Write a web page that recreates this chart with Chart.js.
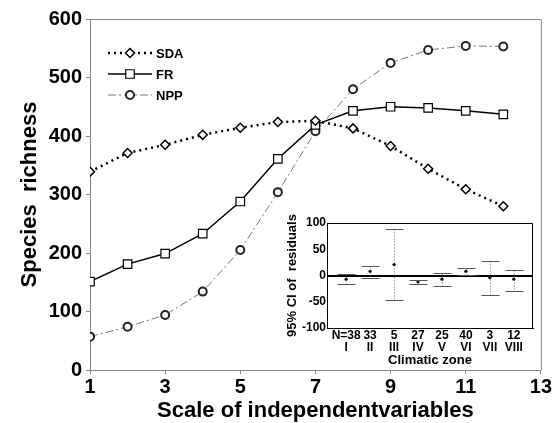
<!DOCTYPE html>
<html>
<head>
<meta charset="utf-8">
<script src="https://cdn.jsdelivr.net/npm/chart.js@4/dist/chart.umd.min.js"></script>
<style>
  html, body { margin: 0; padding: 0; background: #fff; }
  #wrap { position: relative; width: 553px; height: 423px; }
  #mainChart { position: absolute; left: 0; top: 0; }
  #insetChart { position: absolute; left: 282px; top: 205px; }
</style>
</head>
<body>
<div id="wrap">
  <canvas id="mainChart" width="553" height="423"></canvas>
  <canvas id="insetChart" width="260" height="163"></canvas>
</div>
<script>
// main panel data
const scaleSteps = [1, 2, 3, 4, 5, 6, 7, 8, 9, 10, 11, 12];
const sdaValues = [339, 371, 385, 402, 414, 424, 426, 413, 383, 344, 309, 280];
const frValues = [151, 181, 199, 233, 288, 361, 419, 443, 450, 448, 443, 437];
const nppValues = [57, 74, 94, 134, 205, 304, 408, 480, 525, 547, 554, 553];
const xTicks = [1, 3, 5, 7, 9, 11, 13];

// inset data
const zonePos = [1, 2, 3, 4, 5, 6, 7, 8];
const zoneNames = ['I', 'II', 'III', 'IV', 'V', 'VI', 'VII', 'VIII'];
const zoneN = ['N=38', '33', '5', '27', '25', '40', '3', '12'];
const ciMean = [-7, 8, 21, -12, -7, 8, -4, -7];
const ciUpper = [2, 18, 88, -8, 5, 15, 28, 10];
const ciLower = [-17, -4, -46, -16, -20, 1, -38, -30];

Chart.defaults.font.family = "'Liberation Sans', Arial, sans-serif";
Chart.defaults.font.weight = 'bold';
Chart.defaults.color = '#000';
Chart.defaults.animation = false;

const FONT = "'Liberation Sans', Arial, sans-serif";

const pts = vals => scaleSteps.map((x, i) => ({ x: x, y: vals[i] }));

// box border + legend inside plot
const mainExtras = {
    id: 'mainExtras',
    afterDraw(chart) {
        const ctx = chart.ctx;
        const a = chart.chartArea;
        ctx.save();
        ctx.strokeStyle = '#888';
        ctx.lineWidth = 1;
        ctx.beginPath();
        ctx.moveTo(a.left, a.top + 0.5);
        ctx.lineTo(a.right + 0.5, a.top + 0.5);
        ctx.lineTo(a.right + 0.5, a.bottom);
        ctx.stroke();

        // legend
        const rows = [
            { ds: chart.data.datasets[0], y: 53 },
            { ds: chart.data.datasets[1], y: 74 },
            { ds: chart.data.datasets[2], y: 95 }
        ];
        rows.forEach(r => {
            const ds = r.ds;
            ctx.save();
            ctx.strokeStyle = ds.borderColor;
            ctx.lineWidth = ds.borderWidth;
            ctx.setLineDash(ds.borderDash || []);
            ctx.beginPath();
            ctx.moveTo(108, r.y);
            ctx.lineTo(152, r.y);
            ctx.stroke();
            ctx.restore();
            ctx.save();
            ctx.fillStyle = '#fff';
            ctx.strokeStyle = ds.pointBorderColor;
            ctx.lineWidth = ds.pointBorderWidth;
            Chart.helpers.drawPoint(ctx, {
                pointStyle: ds.pointStyle,
                rotation: 0,
                radius: ds.pointRadius,
                borderWidth: ds.pointBorderWidth
            }, 130, r.y);
            ctx.restore();
            ctx.fillStyle = '#000';
            ctx.font = 'bold 13px ' + FONT;
            ctx.textBaseline = 'middle';
            ctx.fillText(ds.label, 156, r.y + 1);
        });
        ctx.restore();
    }
};

new Chart(document.getElementById('mainChart'), {
    type: 'line',
    data: {
        datasets: [
            {
                label: 'SDA',
                data: pts(sdaValues),
                borderColor: '#000',
                borderWidth: 2.5,
                borderDash: [2, 4],
                pointStyle: 'rectRot',
                pointRadius: 4.5,
                pointBackgroundColor: '#fff',
                pointBorderColor: '#000',
                pointBorderWidth: 1.5
            },
            {
                label: 'FR',
                data: pts(frValues),
                borderColor: '#000',
                borderWidth: 1.5,
                pointStyle: 'rect',
                pointRadius: 6,
                pointBackgroundColor: '#fff',
                pointBorderColor: '#000',
                pointBorderWidth: 1.2
            },
            {
                label: 'NPP',
                data: pts(nppValues),
                borderColor: '#777',
                borderWidth: 1,
                borderDash: [8, 3, 2, 3],
                pointStyle: 'circle',
                pointRadius: 4,
                pointBackgroundColor: '#fff',
                pointBorderColor: '#222',
                pointBorderWidth: 2
            }
        ]
    },
    options: {
        responsive: false,
        layout: { padding: { top: 19, right: 10, left: 0, bottom: 0 } },
        plugins: { legend: { display: false }, tooltip: { enabled: false } },
        scales: {
            x: {
                type: 'linear',
                min: 1,
                max: 13,
                afterBuildTicks: s => { s.ticks = xTicks.map(v => ({ value: v })); },
                afterFit: s => { s.height = 53; },
                grid: { display: true, drawOnChartArea: false, tickLength: 4, color: '#888' },
                border: { color: '#888' },
                ticks: { font: { size: 20, weight: 'bold' }, padding: 1, maxRotation: 0 },
                title: {
                    display: true,
                    text: 'Scale of independentvariables',
                    font: { size: 22, weight: 'bold', lineHeight: 1.1 },
                    padding: { top: 0, bottom: 0 }
                }
            },
            y: {
                min: 0,
                max: 600,
                ticks: { stepSize: 100, font: { size: 20, weight: 'bold' }, padding: 4 },
                afterFit: s => { s.width = 90; },
                grid: { display: true, drawOnChartArea: false, tickLength: 4, color: '#888' },
                border: { color: '#888' },
                title: {
                    display: true,
                    text: 'Species  richness',
                    font: { size: 22, weight: 'bold', lineHeight: 1.1 },
                    padding: { top: 18, bottom: 0 }
                }
            }
        }
    },
    plugins: [mainExtras]
});

// inset: white panel, error bars, top/right border
const insetExtras = {
    id: 'insetExtras',
    beforeDraw(chart) {
        const a = chart.chartArea;
        chart.ctx.save();
        chart.ctx.fillStyle = '#fff';
        chart.ctx.fillRect(a.left, a.top, a.right - a.left, a.bottom - a.top);
        chart.ctx.restore();
    },
    afterDatasetsDraw(chart) {
        const ctx = chart.ctx;
        const xs = chart.scales.x, ys = chart.scales.y;
        ctx.save();
        zonePos.forEach((z, i) => {
            const px = Math.round(xs.getPixelForValue(z)) + 0.5;
            const yHi = Math.round(ys.getPixelForValue(ciUpper[i])) + 0.5;
            const yLo = Math.round(ys.getPixelForValue(ciLower[i])) + 0.5;
            ctx.strokeStyle = '#666';
            ctx.lineWidth = 1;
            ctx.setLineDash([1, 2]);
            ctx.beginPath();
            ctx.moveTo(px, yHi);
            ctx.lineTo(px, yLo);
            ctx.stroke();
            ctx.setLineDash([]);
            ctx.strokeStyle = '#555';
            ctx.beginPath();
            ctx.moveTo(px - 9, yHi);
            ctx.lineTo(px + 9, yHi);
            ctx.moveTo(px - 9, yLo);
            ctx.lineTo(px + 9, yLo);
            ctx.stroke();
        });
        const a = chart.chartArea;
        ctx.strokeStyle = '#000';
        ctx.lineWidth = 1;
        ctx.beginPath();
        ctx.moveTo(a.left, a.top + 0.5);
        ctx.lineTo(a.right - 0.5, a.top + 0.5);
        ctx.lineTo(a.right - 0.5, a.bottom);
        ctx.stroke();
        ctx.restore();
    }
};

new Chart(document.getElementById('insetChart'), {
    type: 'line',
    data: {
        datasets: [{
            label: 'mean',
            data: zonePos.map((z, i) => ({ x: z, y: ciMean[i] })),
            showLine: false,
            pointRadius: 1.6,
            pointBackgroundColor: '#000',
            pointBorderColor: '#000',
            pointBorderWidth: 0
        }]
    },
    options: {
        responsive: false,
        layout: { padding: { top: 18, right: 9, left: 0, bottom: 0 } },
        plugins: { legend: { display: false }, tooltip: { enabled: false } },
        scales: {
            x: {
                type: 'linear',
                min: 0.2,
                max: 8.8,
                afterBuildTicks: s => { s.ticks = zonePos.map(v => ({ value: v })); },
                afterFit: s => { s.height = 40; },
                grid: { display: false, drawTicks: false },
                border: { color: '#000', width: 1 },
                ticks: {
                    font: { size: 12, weight: 'bold', lineHeight: 1.0 },
                    padding: 2,
                    maxRotation: 0,
                    autoSkip: false,
                    callback: (v, i) => [zoneN[i], zoneNames[i]]
                },
                title: {
                    display: true,
                    text: 'Climatic zone',
                    font: { size: 13, weight: 'bold', lineHeight: 1.0 },
                    padding: { top: 0, bottom: 1 }
                }
            },
            y: {
                min: -100,
                max: 100,
                ticks: { stepSize: 50, font: { size: 12, weight: 'bold' }, padding: 1 },
                afterFit: s => { s.width = 45; },
                grid: {
                    display: true,
                    drawTicks: false,
                    color: c => (c.tick && c.tick.value === 0) ? '#000' : 'rgba(0,0,0,0)',
                    lineWidth: c => (c.tick && c.tick.value === 0) ? 2 : 0
                },
                border: { color: '#000', width: 1 },
                title: {
                    display: true,
                    text: '95% CI of  residuals',
                    font: { size: 13, weight: 'bold' },
                    padding: { top: 3, bottom: 0 }
                }
            }
        }
    },
    plugins: [insetExtras]
});
</script>
</body>
</html>
